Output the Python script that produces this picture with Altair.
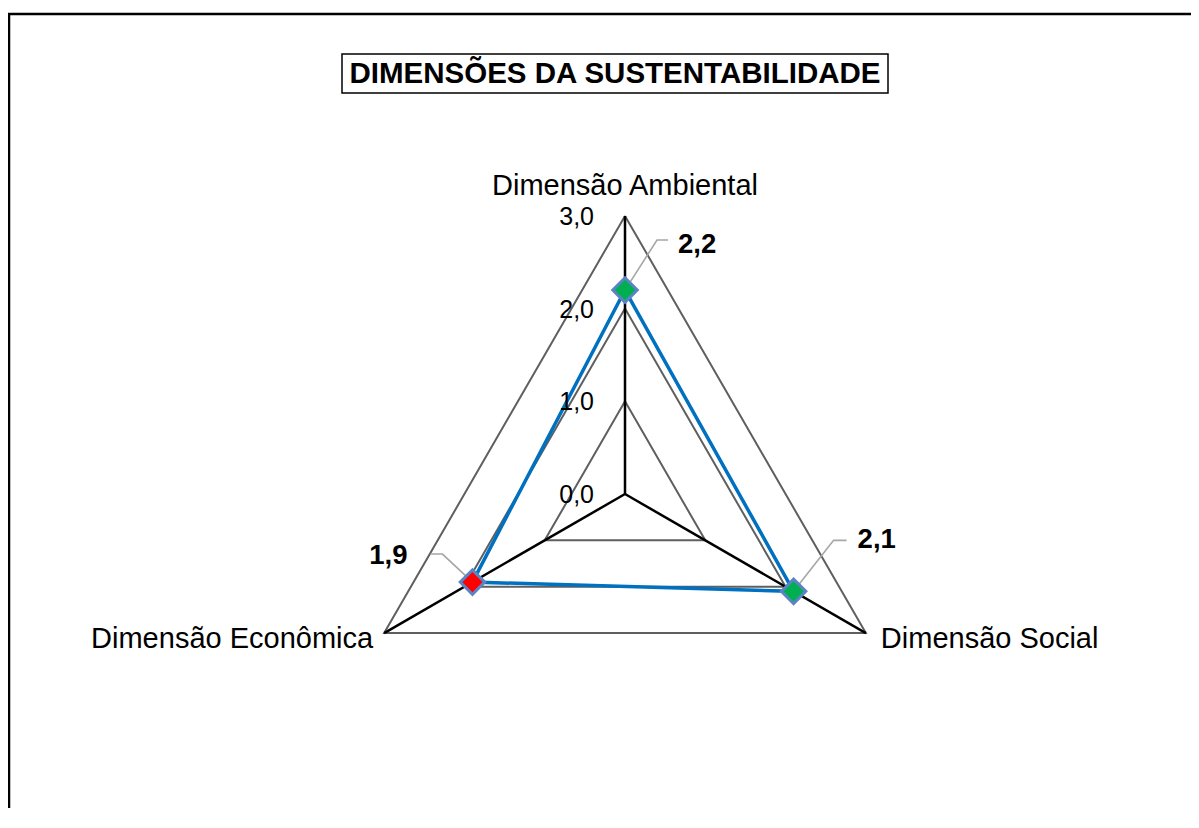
import altair as alt
import pandas as pd
import math

# ---------------- data ----------------
categories = ["Dimensão Ambiental", "Dimensão Social", "Dimensão Econômica"]
values = [2.2, 2.1, 1.9]
value_labels = ["2,2", "2,1", "1,9"]
angles_deg = [90, -30, 210]
marker_fill = ["#00B050", "#00B050", "#FF0000"]
grid_levels = [1, 2, 3]
tick_values = [0, 1, 2, 3]
tick_labels = ["0,0", "1,0", "2,0", "3,0"]
r_max = 3
title_text = "DIMENSÕES DA SUSTENTABILIDADE"

# ---------------- layout / style ----------------
W, H = 1183, 800          # plot area (padding 0)
CX, CY = 617, 486         # pixel position of the radar centre inside the plot
PXU = 92.7                # pixels per data unit
FONT = "Liberation Sans"
xdom = [-CX / PXU, (W - CX) / PXU]
ydom = [-(H - CY) / PXU, CY / PXU]

# leader-line offsets in px (relative to marker), per point
leader_offsets = [
    [(0, 0), (32, -50), (43, -50)],
    [(0, 0), (40, -51), (53, -51)],
    [(0, 0), (-30, -28), (-42, -28)],
]
# data label placement (align, dx, dy)
label_place = [("left", 53, -45), ("left", 64, -51), ("right", -65, -26)]
# category label placement (align, baseline, dx, dy)
cat_place = [("center", "alphabetic", 0, -21), ("left", "middle", 15, 6), ("right", "middle", -11, 6)]


def pol(r, a):
    return r * math.cos(math.radians(a)), r * math.sin(math.radians(a))


X = lambda f="x": alt.X(f"{f}:Q", scale=alt.Scale(domain=xdom, nice=False, zero=False), axis=None)
Y = lambda f="y": alt.Y(f"{f}:Q", scale=alt.Scale(domain=ydom, nice=False, zero=False), axis=None)

# grid triangles
grid_rows = []
for lv in grid_levels:
    for i, a in enumerate(angles_deg + [angles_deg[0]]):
        x, y = pol(lv, a)
        grid_rows.append({"level": lv, "order": i, "x": x, "y": y})
grid_df = pd.DataFrame(grid_rows)

# spokes
spoke_rows = []
for a in angles_deg:
    x, y = pol(r_max, a)
    spoke_rows.append({"x": 0.0, "y": 0.0, "x2": x, "y2": y})
spoke_df = pd.DataFrame(spoke_rows)

# series
ser_rows = []
for i, (c, v, a) in enumerate(zip(categories + [categories[0]], values + [values[0]], angles_deg + [angles_deg[0]])):
    x, y = pol(v, a)
    ser_rows.append({"cat": c, "order": i, "x": x, "y": y})
ser_df = pd.DataFrame(ser_rows)

pt_rows = []
for c, v, a, lab in zip(categories, values, angles_deg, value_labels):
    x, y = pol(v, a)
    pt_rows.append({"cat": c, "x": x, "y": y, "label": lab})
pt_df = pd.DataFrame(pt_rows)

# leader lines
lead_rows = []
for k, (v, a) in enumerate(zip(values, angles_deg)):
    x0, y0 = pol(v, a)
    for j, (dx, dy) in enumerate(leader_offsets[k]):
        lead_rows.append({"pt": k, "order": j, "x": x0 + dx / PXU, "y": y0 - dy / PXU})
lead_df = pd.DataFrame(lead_rows)

# category label anchors
cat_rows = []
for c, a in zip(categories, angles_deg):
    x, y = pol(r_max, a)
    cat_rows.append({"cat": c, "x": x, "y": y})
cat_df = pd.DataFrame(cat_rows)

tick_df = pd.DataFrame({"x": [0.0] * len(tick_values), "y": tick_values, "label": tick_labels})

layers = []

# frame (left, top)
layers.append(alt.Chart(pd.DataFrame({"a": [0]})).mark_rule(color="#000000", strokeWidth=2.5).encode(
    x=alt.value(1), y=alt.value(6), y2=alt.value(H)))
layers.append(alt.Chart(pd.DataFrame({"a": [0]})).mark_rule(color="#000000", strokeWidth=2.5).encode(
    x=alt.value(0), x2=alt.value(W), y=alt.value(6)))

# grid
layers.append(alt.Chart(grid_df).mark_line(color="#5F5F5F", strokeWidth=2).encode(
    x=X(), y=Y(), detail="level:N", order="order:Q"))
# spokes
layers.append(alt.Chart(spoke_df).mark_rule(color="#000000", strokeWidth=2.5).encode(
    x=X(), y=Y(), x2="x2:Q", y2="y2:Q"))
# series line
layers.append(alt.Chart(ser_df).mark_line(color="#0070C0", strokeWidth=3.5).encode(
    x=X(), y=Y(), order="order:Q"))
# leader lines
layers.append(alt.Chart(lead_df).mark_line(color="#A6A6A6", strokeWidth=1.6).encode(
    x=X(), y=Y(), detail="pt:N", order="order:Q"))
# markers
layers.append(alt.Chart(pt_df).mark_point(shape="diamond", size=600, filled=True, stroke="#5B84C4",
                                           strokeWidth=3, opacity=1).encode(
    x=X(), y=Y(),
    fill=alt.Fill("cat:N", scale=alt.Scale(domain=categories, range=marker_fill), legend=None)))

# data labels
for k, (al, dx, dy) in enumerate(label_place):
    layers.append(alt.Chart(pt_df.iloc[[k]]).mark_text(
        align=al, baseline="middle", dx=dx, dy=dy, font=FONT, fontSize=27.5, fontWeight="bold", color="#000000"
    ).encode(x=X(), y=Y(), text="label:N"))

# category labels
for k, (al, bl, dx, dy) in enumerate(cat_place):
    layers.append(alt.Chart(cat_df.iloc[[k]]).mark_text(
        align=al, baseline=bl, dx=dx, dy=dy, font=FONT, fontSize=29, color="#000000"
    ).encode(x=X(), y=Y(), text="cat:N"))

# tick labels
layers.append(alt.Chart(tick_df).mark_text(
    align="right", baseline="middle", dx=-31, dy=1, font=FONT, fontSize=25, color="#000000"
).encode(x=X(), y=Y(), text="label:N"))

# title box
layers.append(alt.Chart(pd.DataFrame({"a": [0]})).mark_rect(fill="#FFFFFF", stroke="#000000", strokeWidth=1.5).encode(
    x=alt.value(334), x2=alt.value(880), y=alt.value(46), y2=alt.value(85)))
layers.append(alt.Chart(pd.DataFrame({"t": [title_text]})).mark_text(
    align="center", baseline="middle", font=FONT, fontSize=29.5, fontWeight="bold", color="#000000"
).encode(x=alt.value(607), y=alt.value(66), text="t:N"))

chart = alt.layer(*layers).properties(
    width=W, height=H, padding=0, autosize=alt.AutoSizeParams(type="none"),
    background="#FFFFFF"
).configure_view(strokeWidth=0)

chart.save("out.html", embed_options={"renderer": "svg", "actions": False})
